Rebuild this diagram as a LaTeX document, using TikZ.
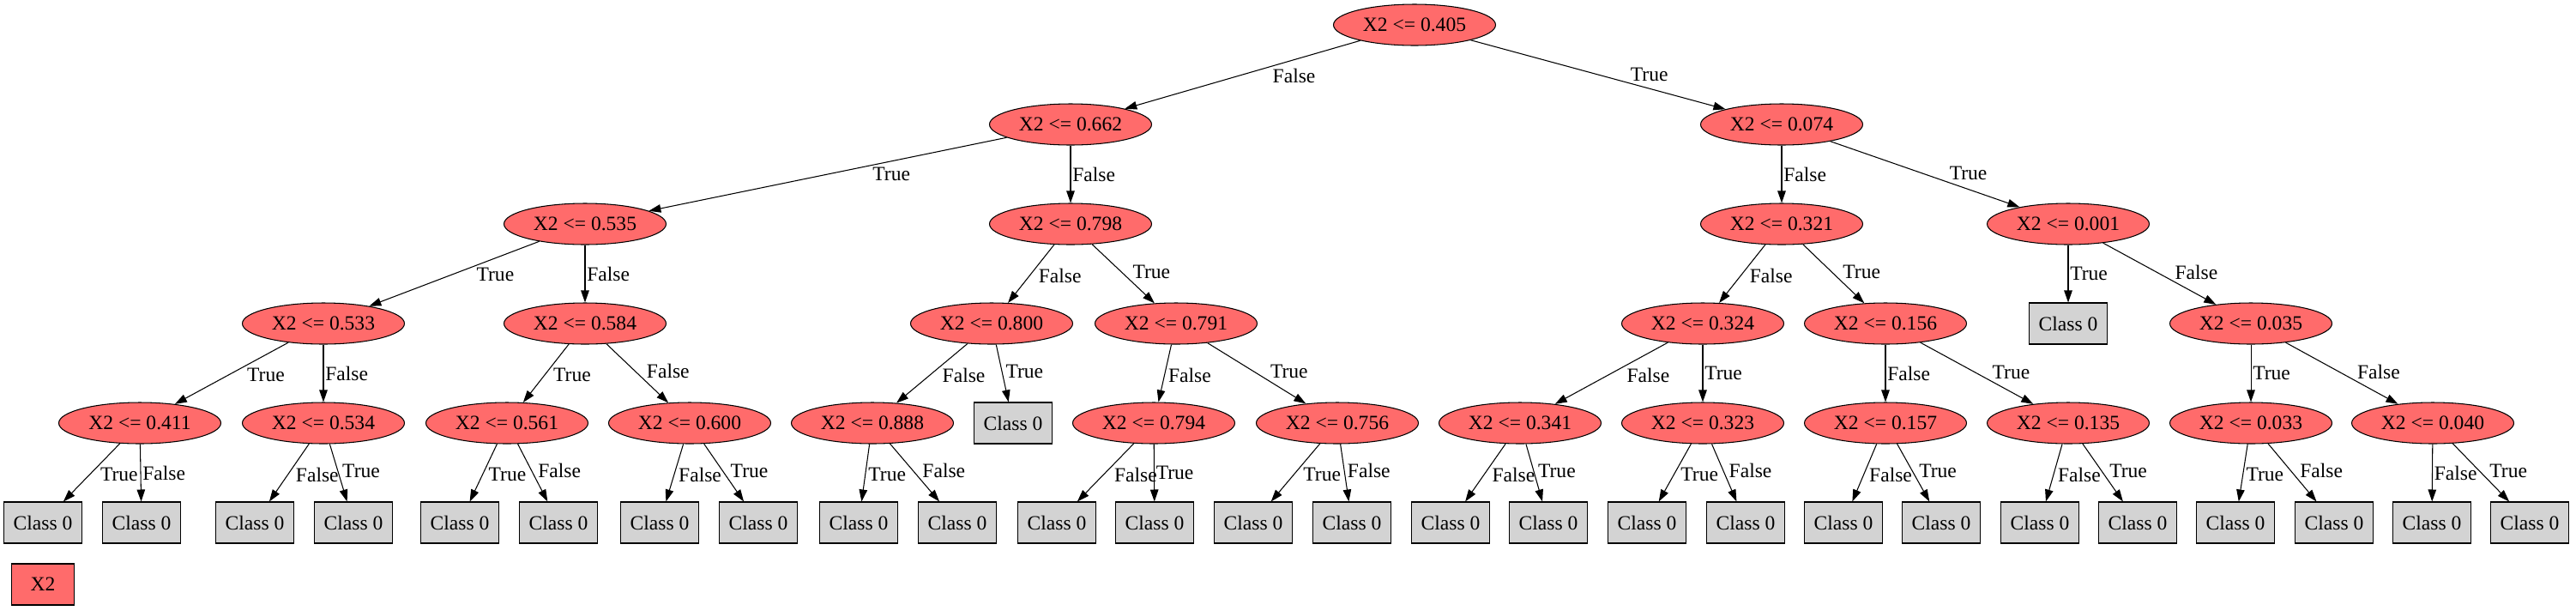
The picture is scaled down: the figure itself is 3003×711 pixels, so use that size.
\documentclass[tikz,border=0pt]{standalone}
\usepackage{fontspec}
\setmainfont{Liberation Serif}
\usetikzlibrary{arrows.meta,shapes.geometric}

\definecolor{splitred}{RGB}{255,107,107}
\definecolor{leafgray}{RGB}{211,211,211}

\begin{document}
\begin{tikzpicture}[
    >={Triangle[length=0.28cm,width=0.19cm]},
    x=0.02cm, y=-0.02cm,
    line width=0.6pt,
    every node/.style={font=\fontsize{13.4}{16}\selectfont},
    split/.style={draw, ellipse, fill=splitred, inner sep=0pt, minimum width=3.78cm, minimum height=0.96cm},
    leaf/.style={draw, rectangle, fill=leafgray, inner sep=0pt, minimum width=1.82cm, minimum height=0.96cm},
    legend/.style={draw, rectangle, fill=splitred, inner sep=0pt, minimum width=1.46cm, minimum height=0.96cm},
    labl/.style={pos=0.38, anchor=north west, inner sep=1pt},
    labr/.style={pos=0.62, anchor=south west, inner sep=1pt},
    labv/.style={midway, anchor=west, inner sep=1pt}
  ]

    \useasboundingbox (0,0) rectangle (3003,711);

    %------------------ Split nodes ------------------%
    % Root
    \node[split] (n405) at (1649,29) {X2 <= 0.405};

    % Level 1
    \node[split] (n662) at (1248,145) {X2 <= 0.662};
    \node[split] (n074) at (2077,145) {X2 <= 0.074};

    % Level 2
    \node[split] (n535) at (682,261) {X2 <= 0.535};
    \node[split] (n798) at (1248,261) {X2 <= 0.798};
    \node[split] (n321) at (2077,261) {X2 <= 0.321};
    \node[split] (n001) at (2411,261) {X2 <= 0.001};

    % Level 3
    \node[split] (n533) at (377,377) {X2 <= 0.533};
    \node[split] (n584) at (682,377) {X2 <= 0.584};
    \node[split] (n800) at (1156,377) {X2 <= 0.800};
    \node[split] (n791) at (1371,377) {X2 <= 0.791};
    \node[split] (n324) at (1985,377) {X2 <= 0.324};
    \node[split] (n156) at (2198,377) {X2 <= 0.156};
    \node[leaf]  (c001) at (2411,377) {Class 0};
    \node[split] (n035) at (2624,377) {X2 <= 0.035};

    % Level 4
    \node[split] (n411) at (163,493) {X2 <= 0.411};
    \node[split] (n534) at (377,493) {X2 <= 0.534};
    \node[split] (n561) at (591,493) {X2 <= 0.561};
    \node[split] (n600) at (804,493) {X2 <= 0.600};
    \node[split] (n888) at (1017,493) {X2 <= 0.888};
    \node[leaf]  (c800) at (1181,493) {Class 0};
    \node[split] (n794) at (1345,493) {X2 <= 0.794};
    \node[split] (n756) at (1559,493) {X2 <= 0.756};
    \node[split] (n341) at (1772,493) {X2 <= 0.341};
    \node[split] (n323) at (1985,493) {X2 <= 0.323};
    \node[split] (n157) at (2198,493) {X2 <= 0.157};
    \node[split] (n135) at (2411,493) {X2 <= 0.135};
    \node[split] (n033) at (2624,493) {X2 <= 0.033};
    \node[split] (n040) at (2836,493) {X2 <= 0.040};

    %------------------ Leaves ------------------%
    \node[leaf] (l1)  at (50,609)   {Class 0};
    \node[leaf] (l2)  at (165,609)  {Class 0};
    \node[leaf] (l3)  at (297,609)  {Class 0};
    \node[leaf] (l4)  at (412,609)  {Class 0};
    \node[leaf] (l5)  at (536,609)  {Class 0};
    \node[leaf] (l6)  at (651,609)  {Class 0};
    \node[leaf] (l7)  at (769,609)  {Class 0};
    \node[leaf] (l8)  at (884,609)  {Class 0};
    \node[leaf] (l9)  at (1001,609) {Class 0};
    \node[leaf] (l10) at (1116,609) {Class 0};
    \node[leaf] (l11) at (1232,609) {Class 0};
    \node[leaf] (l12) at (1346,609) {Class 0};
    \node[leaf] (l13) at (1461,609) {Class 0};
    \node[leaf] (l14) at (1576,609) {Class 0};
    \node[leaf] (l15) at (1691,609) {Class 0};
    \node[leaf] (l16) at (1805,609) {Class 0};
    \node[leaf] (l17) at (1920,609) {Class 0};
    \node[leaf] (l18) at (2035,609) {Class 0};
    \node[leaf] (l19) at (2149,609) {Class 0};
    \node[leaf] (l20) at (2263,609) {Class 0};
    \node[leaf] (l21) at (2378,609) {Class 0};
    \node[leaf] (l22) at (2492,609) {Class 0};
    \node[leaf] (l23) at (2606,609) {Class 0};
    \node[leaf] (l24) at (2721,609) {Class 0};
    \node[leaf] (l25) at (2835,609) {Class 0};
    \node[leaf] (l26) at (2949,609) {Class 0};

    % Legend
    \node[legend] (key) at (50,681) {X2};

    %------------------ Edges ------------------%
    \draw[->] (n405) -- (n662) node[labl] {False};
    \draw[->] (n405) -- (n074) node[labr] {True};

    \draw[->] (n662) -- (n535) node[labl] {True};
    \draw[->] (n662) -- (n798) node[labv] {False};
    \draw[->] (n074) -- (n321) node[labv] {False};
    \draw[->] (n074) -- (n001) node[labr] {True};

    \draw[->] (n535) -- (n533) node[labl] {True};
    \draw[->] (n535) -- (n584) node[labv] {False};
    \draw[->] (n798) -- (n800) node[labl] {False};
    \draw[->] (n798) -- (n791) node[labr] {True};
    \draw[->] (n321) -- (n324) node[labl] {False};
    \draw[->] (n321) -- (n156) node[labr] {True};
    \draw[->] (n001) -- (c001) node[labv] {True};
    \draw[->] (n001) -- (n035) node[labr] {False};

    \draw[->] (n533) -- (n411) node[labl] {True};
    \draw[->] (n533) -- (n534) node[labv] {False};
    \draw[->] (n584) -- (n561) node[labl] {True};
    \draw[->] (n584) -- (n600) node[labr] {False};
    \draw[->] (n800) -- (n888) node[labl] {False};
    \draw[->] (n800) -- (c800) node[labr] {True};
    \draw[->] (n791) -- (n794) node[labl] {False};
    \draw[->] (n791) -- (n756) node[labr] {True};
    \draw[->] (n324) -- (n341) node[labl] {False};
    \draw[->] (n324) -- (n323) node[labv] {True};
    \draw[->] (n156) -- (n157) node[labv] {False};
    \draw[->] (n156) -- (n135) node[labr] {True};
    \draw[->] (n035) -- (n033) node[labv] {True};
    \draw[->] (n035) -- (n040) node[labr] {False};

    \draw[->] (n411) -- (l1)  node[labl] {True};
    \draw[->] (n411) -- (l2)  node[labv] {False};
    \draw[->] (n534) -- (l3)  node[labl] {False};
    \draw[->] (n534) -- (l4)  node[labr] {True};
    \draw[->] (n561) -- (l5)  node[labl] {True};
    \draw[->] (n561) -- (l6)  node[labr] {False};
    \draw[->] (n600) -- (l7)  node[labl] {False};
    \draw[->] (n600) -- (l8)  node[labr] {True};
    \draw[->] (n888) -- (l9)  node[labl] {True};
    \draw[->] (n888) -- (l10) node[labr] {False};
    \draw[->] (n794) -- (l11) node[labl] {False};
    \draw[->] (n794) -- (l12) node[labv] {True};
    \draw[->] (n756) -- (l13) node[labl] {True};
    \draw[->] (n756) -- (l14) node[labr] {False};
    \draw[->] (n341) -- (l15) node[labl] {False};
    \draw[->] (n341) -- (l16) node[labr] {True};
    \draw[->] (n323) -- (l17) node[labl] {True};
    \draw[->] (n323) -- (l18) node[labr] {False};
    \draw[->] (n157) -- (l19) node[labl] {False};
    \draw[->] (n157) -- (l20) node[labr] {True};
    \draw[->] (n135) -- (l21) node[labl] {False};
    \draw[->] (n135) -- (l22) node[labr] {True};
    \draw[->] (n033) -- (l23) node[labl] {True};
    \draw[->] (n033) -- (l24) node[labr] {False};
    \draw[->] (n040) -- (l25) node[labv] {False};
    \draw[->] (n040) -- (l26) node[labr] {True};

  \end{tikzpicture}
\end{document}
